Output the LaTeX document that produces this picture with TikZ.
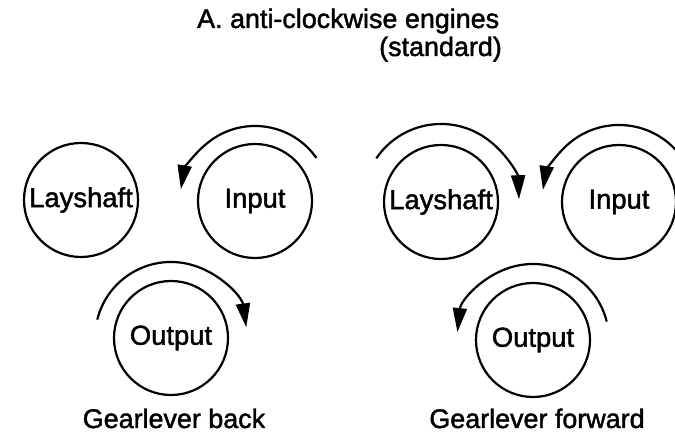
\documentclass[tikz,border=0pt]{standalone}
\usepackage{fontspec}
\setmainfont{Liberation Sans}
\newfontfamily\lblfont{Liberation Sans}[FakeBold=1.6]
\usetikzlibrary{arrows.meta}
\tikzset{
  gear/.style={draw, circle, line width=2.2bp, minimum size=114bp, inner sep=0pt, font=\lblfont\fontsize{27.5}{30}\selectfont},
  rot/.style={line width=2.2bp, -{Triangle[length=24bp,width=14bp]}},
  lbl/.style={font=\lblfont\fontsize{27}{30}\selectfont, inner sep=0pt}
}
\begin{document}
\begin{tikzpicture}[x=1bp,y=1bp]
\useasboundingbox (0,0) rectangle (675,435);
\clip (0,0) rectangle (675,435);
% title
\node[lbl, anchor=base west] (t1) at (197,407) {A. anti-clockwise engines};
\node[lbl, anchor=base east] (t2) at (502,379) {(standard)};
% left group
\node[gear] (lay1) at (81,235) {Layshaft};
\node[gear] (in1) at (255,234) {Input};
\node[gear] (out1) at (171,97) {Output};
\draw[rot] ([shift={(35:75bp)}]in1.center) arc[start angle=35, end angle=171, radius=75bp];
\draw[rot] ([shift={(166:76bp)}]out1.center) arc[start angle=166, end angle=8, radius=76bp];
\node[lbl, anchor=base] (b1) at (174,7) {Gearlever back};
% right group
\node[gear] (lay2) at (441,233) {Layshaft};
\node[gear] (in2) at (619,233) {Input};
\node[gear] (out2) at (533,95) {Output};
\draw[rot] ([shift={(146:78bp)}]lay2.center) arc[start angle=146, end angle=2, radius=78bp];
\draw[rot] ([shift={(40:77bp)}]in2.center) arc[start angle=40, end angle=171, radius=77bp];
\draw[rot] ([shift={(14:76bp)}]out2.center) arc[start angle=14, end angle=174, radius=76bp];
\node[lbl, anchor=base] (b2) at (537,7) {Gearlever forward};
\end{tikzpicture}
\end{document}
